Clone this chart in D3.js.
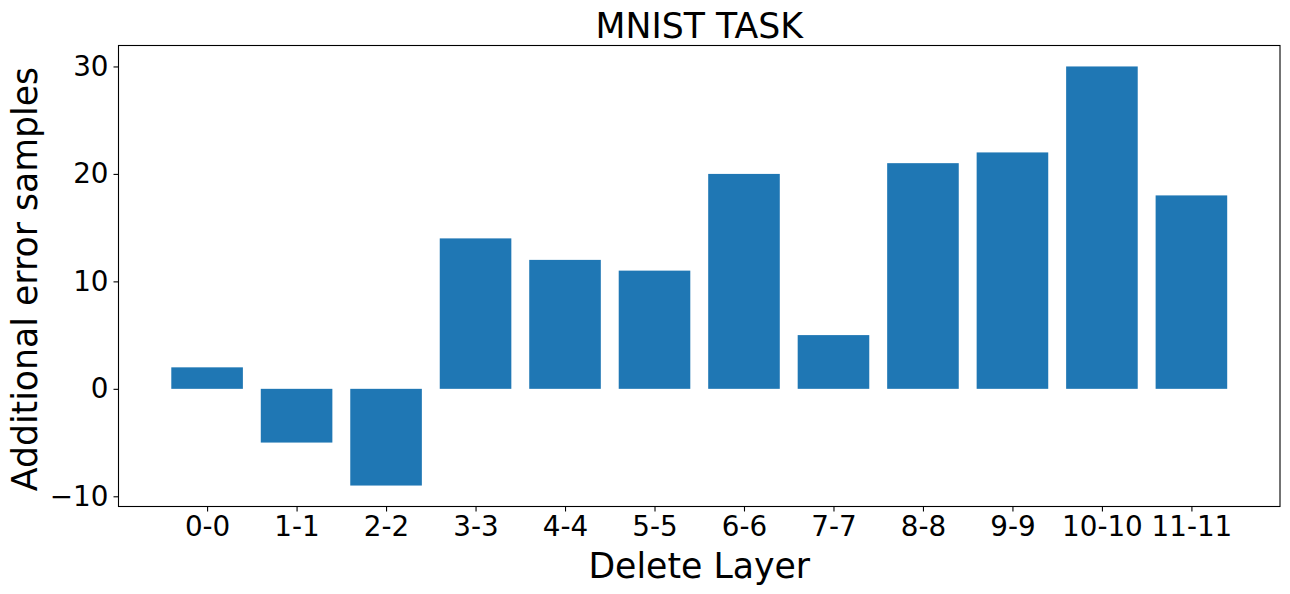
<!DOCTYPE html>
<html>
<head>
<meta charset="utf-8">
<script src="https://cdn.jsdelivr.net/npm/d3@7"></script>
<style>
  html, body { margin: 0; padding: 0; background: #fff; }
  svg { display: block; font-family: "DejaVu Sans", sans-serif; }
</style>
</head>
<body>
<svg id="chart" width="1290" height="594"></svg>
<script>
const categories = ["0-0","1-1","2-2","3-3","4-4","5-5","6-6","7-7","8-8","9-9","10-10","11-11"];
const values = [2, -5, -9, 14, 12, 11, 20, 5, 21, 22, 30, 18];
const yTicks = [-10, 0, 10, 20, 30];
const titleText = "MNIST TASK";
const xLabelText = "Delete Layer";
const yLabelText = "Additional error samples";

(function () {
const svg = d3.select("#chart");
const pL = 118.5, pR = 1280, pT = 45.5, pB = 506.5;
const tickFont = 27.8, labelFont = 34.7;

// matplotlib-like linear x positions with 5% margins
const x = d3.scaleLinear().domain([-0.99, 11.99]).range([pL, pR]);
const barW = x(0.4) - x(-0.4);
const y = d3.scaleLinear().domain([-10.95, 31.95]).range([pB, pT]);

svg.append("g").selectAll("rect").data(values).join("rect")
  .attr("x", (d, i) => x(i - 0.4))
  .attr("width", barW)
  .attr("y", d => y(Math.max(0, d)))
  .attr("height", d => Math.abs(y(d) - y(0)))
  .attr("fill", "#1f77b4");

// frame
svg.append("rect").attr("x", pL).attr("y", pT)
  .attr("width", pR - pL).attr("height", pB - pT)
  .attr("fill", "none").attr("stroke", "#000").attr("stroke-width", 1.1);

// y axis
const yAxis = d3.axisLeft(y).tickValues(yTicks).tickSize(5).tickPadding(5)
  .tickFormat(d => d < 0 ? "\u2212" + Math.abs(d) : String(d));
const gy = svg.append("g").attr("transform", `translate(${pL},0)`).call(yAxis);
gy.select(".domain").remove();
gy.selectAll("line").attr("stroke", "#000").attr("stroke-width", 1.1);
gy.selectAll("text").attr("font-size", tickFont).attr("fill", "#000")
  .attr("font-family", "DejaVu Sans");

// x axis
const xAxis = d3.axisBottom(x).tickValues(d3.range(categories.length))
  .tickSize(5).tickPadding(5).tickFormat(i => categories[i]);
const gx = svg.append("g").attr("transform", `translate(0,${pB})`).call(xAxis);
gx.select(".domain").remove();
gx.selectAll("line").attr("stroke", "#000").attr("stroke-width", 1.1);
gx.selectAll("text").attr("font-size", tickFont).attr("fill", "#000")
  .attr("font-family", "DejaVu Sans");

// title
svg.append("text").attr("x", (pL + pR) / 2).attr("y", 37.5)
  .attr("text-anchor", "middle").attr("font-size", labelFont).attr("fill", "#000")
  .text(titleText);

// x label
svg.append("text").attr("x", (pL + pR) / 2).attr("y", 577.5)
  .attr("text-anchor", "middle").attr("font-size", labelFont).attr("fill", "#000")
  .text(xLabelText);

// y label
svg.append("text")
  .attr("transform", `translate(37,${(pT + pB) / 2 + 3}) rotate(-90)`)
  .attr("text-anchor", "middle").attr("font-size", labelFont).attr("fill", "#000")
  .text(yLabelText);
})();
</script>
</body>
</html>
